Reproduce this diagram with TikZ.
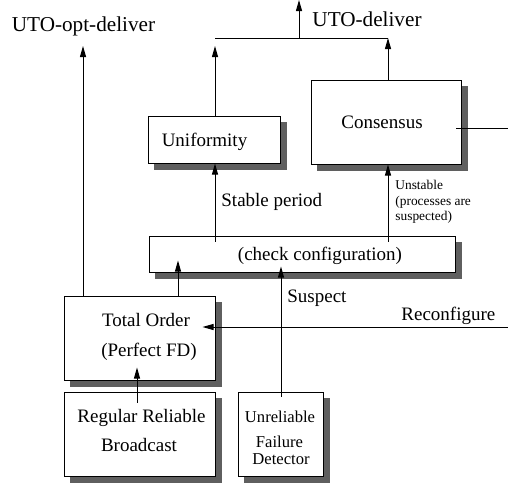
\documentclass[tikz,border=0pt]{standalone}
\usepackage{fontspec}
\setmainfont{Liberation Serif}
\usetikzlibrary{arrows.meta,shadows}
\definecolor{shgray}{RGB}{95,95,95}
\begin{document}
\begin{tikzpicture}[x=0.5pt,y=-0.5pt,
  box/.style={draw=black, line width=0.5pt, fill=white, inner sep=0pt,
    general shadow={fill=shgray, draw=shgray, line width=0.4pt,
      shadow xshift=3.25pt, shadow yshift=-3.25pt}},
  lbl/.style={inner sep=0pt, anchor=base, font=\fontsize{9.5pt}{11pt}\selectfont},
  big/.style={lbl, font=\fontsize{10.6pt}{12pt}\selectfont},
  mid/.style={lbl, font=\fontsize{8.3pt}{10pt}\selectfont},
  tiny/.style={inner sep=0pt, anchor=base west, font=\fontsize{6.7pt}{8pt}\selectfont},
  conn/.style={draw=black, line width=0.5pt},
  arr/.style={conn, -{Triangle[length=5.5pt,width=3pt]}}]
\useasboundingbox (0,0) rectangle (508,482);

% protocol layers
\node[box, minimum width=66pt,   minimum height=23.5pt] (uni)  at (214,139.5) {};
\node[box, minimum width=75pt,   minimum height=42pt]   (cons) at (386,122)   {};
\node[box, minimum width=153pt,  minimum height=18pt]   (cc)   at (302,254)   {};
\node[box, minimum width=75.5pt, minimum height=42pt]   (tot)  at (139.5,338) {};
\node[box, minimum width=75.5pt, minimum height=42pt]   (rrb)  at (139.5,434) {};
\node[box, minimum width=42.5pt, minimum height=42pt]   (ufd)  at (280.5,434) {};

% layer names
\node[lbl] (tUni)  at (204.5,146) {Uniformity};
\node[lbl] (tCons) at (382,128)   {Consensus};
\node[lbl] (tCC)   at (320,260)   {(check configuration)};
\node[lbl] (tTot1) at (146,326)   {Total Order};
\node[lbl] (tTot2) at (149,356)   {(Perfect FD)};
\node[lbl] (tRrb1) at (141.5,422) {Regular Reliable};
\node[lbl] (tRrb2) at (139,451)   {Broadcast};
\node[mid] (tUfd1) at (280,422)   {Unreliable};
\node[mid] (tUfd2) at (279.5,447) {Failure};
\node[mid] (tUfd3) at (281,464)   {Detector};

% event labels
\node[big] (tOpt) at (83.5,32) {UTO-opt-deliver};
\node[big] (tDel) at (367,26)  {UTO-deliver};
\node[lbl, anchor=base west] (tStable) at (221,206) {Stable period};
\node[lbl, anchor=base west] (tSusp)   at (287,302) {Suspect};
\node[lbl, anchor=base west] (tRecf)   at (401,320) {Reconfigure};
\node[tiny] (tUns1) at (395,189) {Unstable};
\node[tiny] (tUns2) at (395,205) {(processes are};
\node[tiny] (tUns3) at (395,220) {suspected)};

% free ends and columns of the connectors
\coordinate (optx)  at (83,46);
\coordinate (joinL) at (215,38);
\coordinate (joinR) at (388,38);
\coordinate (outx)  at (299,0);
\coordinate (sx)    at (281,0);
\coordinate (tx)    at (178,0);
\coordinate (rx)    at (137,0);
\coordinate (rc)    at (508,327);
\coordinate (ce)    at (508,128);

% connectors
\draw[arr] (tot.north -| optx) -- (optx);
\draw[arr, shorten >=4pt] (uni.north -| joinL) -- (joinL);
\draw[arr] (cons.north -| joinR) -- (joinR);
\draw[conn] (joinL) -- (joinR);
\draw[arr] (outx |- joinL) -- (outx);
\draw[arr] ([yshift=-3pt]cc.north -| joinL) -- (uni.south -| joinL);
\draw[arr] ([yshift=-3pt]cc.north -| joinR) -- (cons.south -| joinR);
\draw[arr] ([yshift=-2.5pt]ufd.north -| sx) -- ([yshift=3pt]cc.south -| sx);
\draw[arr] (tot.north -| tx) -- ([yshift=6pt]cc.south -| tx);
\draw[arr] ([yshift=-5.5pt]rrb.north -| rx) -- ([yshift=6.5pt]tot.south -| rx);
\draw[arr] (rc) -- ([xshift=-6.5pt]tot.east |- rc);
\draw[conn] (ce) -- ([xshift=-3pt]cons.east |- ce);
\end{tikzpicture}
\end{document}
